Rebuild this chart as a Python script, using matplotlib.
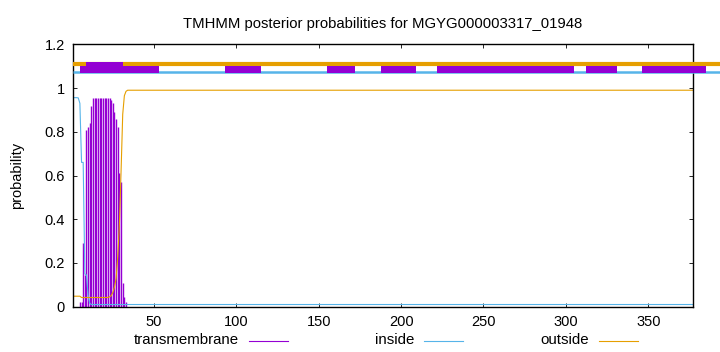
import numpy as np
import matplotlib
matplotlib.use("Agg")
import matplotlib.pyplot as plt
from matplotlib.lines import Line2D

plt.rcParams['font.family'] = ['Liberation Sans', 'DejaVu Sans']
plt.rcParams['font.size'] = 10

seq_len = 377

# posterior probability of transmembrane (impulses), per residue
tm_pos = [5, 6, 7, 8, 9, 10, 11, 12, 13, 14, 15, 16, 17, 18, 19, 20, 21, 22, 23,
          24, 25, 26, 27, 28, 29, 30, 31, 32, 33]
tm_val = [0.02, 0.02, 0.29, 0.145, 0.81, 0.82, 0.84, 0.92, 0.956, 0.956, 0.956, 0.956,
          0.956, 0.956, 0.956, 0.956, 0.956, 0.956, 0.956,
          0.945, 0.93, 0.89, 0.86, 0.82, 0.61, 0.57, 0.11, 0.046, 0.023]

# inside probability (line)
in_pos = [1, 2, 3, 4, 5, 6, 7, 8, 9, 10, 11, 12, 377]
in_val = [0.956, 0.956, 0.956, 0.955, 0.93, 0.66, 0.66, 0.15, 0.145, 0.05, 0.015, 0.01, 0.01]

# outside probability (line)
out_pos = [1, 5, 6, 22, 23, 24, 25, 26, 27, 28, 29, 30, 31, 32, 33, 34, 377]
out_val = [0.048, 0.048, 0.042, 0.042, 0.045, 0.05, 0.065, 0.09, 0.13, 0.23, 0.38,
           0.62, 0.88, 0.965, 0.985, 0.99, 0.99]

# predicted topology strips above the plot
tm_segments = [(5, 53), (93, 115), (155, 172), (188, 209), (222, 305), (312, 331), (346, 385)]
tm_big = (9, 31)

purple = '#9400d3'
blue = '#56b4e9'
orange = '#e69f00'

fig = plt.figure(figsize=(7.2, 3.52), dpi=100)
ax = fig.add_axes([73.3 / 720, 1 - 306.7 / 352, (692.7 - 73.3) / 720, (306.7 - 44.3) / 352])

# topology lines (gnuplot draws them past the right border)
ax.plot([1, 394], [1.111, 1.111], color=orange, lw=3.0, clip_on=False,
        solid_capstyle='butt', zorder=3)
ax.plot([1, 394], [1.072, 1.072], color=blue, lw=1.8, clip_on=False,
        solid_capstyle='butt', zorder=3)
for a, b in tm_segments:
    ax.fill_between([a, b], 1.068, 1.101, color=purple, lw=0, clip_on=False, zorder=4)
ax.fill_between(list(tm_big), 1.068, 1.117, color=purple, lw=0, clip_on=False, zorder=4)

ax.vlines(tm_pos, 0, tm_val, color=purple, lw=1.0)
ax.plot(in_pos, in_val, color=blue, lw=0.8)
ax.plot(out_pos, out_val, color=orange, lw=0.8)

ax.set_xlim(1, seq_len)
ax.set_ylim(0, 1.2)
ax.set_xticks([50, 100, 150, 200, 250, 300, 350])
ax.set_yticks([0, 0.2, 0.4, 0.6, 0.8, 1.0, 1.2])
ax.set_yticklabels(['0', '0.2', '0.4', '0.6', '0.8', '1', '1.2'])
ax.tick_params(direction='in', length=3, width=0.6, top=True, right=True, pad=6,
               labelsize=10.5)
for s in ax.spines.values():
    s.set_linewidth(1.0)

ax.set_ylabel('probability', labelpad=15, fontsize=10.5)
ax.set_title('TMHMM posterior probabilities for MGYG000003317_01948', pad=12, fontsize=10.7)

# legend along the bottom, gnuplot style (text then sample)
leg = [('transmembrane', purple, 239, 249, 288),
       ('inside', blue, 414, 424, 463),
       ('outside', orange, 589, 599, 638)]
for label, col, tx, x0, x1 in leg:
    fig.text(tx / 720, 1 - 340 / 352, label, ha='right', va='center', fontsize=10.8)
    fig.add_artist(Line2D([x0 / 720, x1 / 720], [1 - 341 / 352] * 2, color=col, lw=0.8))

fig.savefig('out.png', dpi=100)
